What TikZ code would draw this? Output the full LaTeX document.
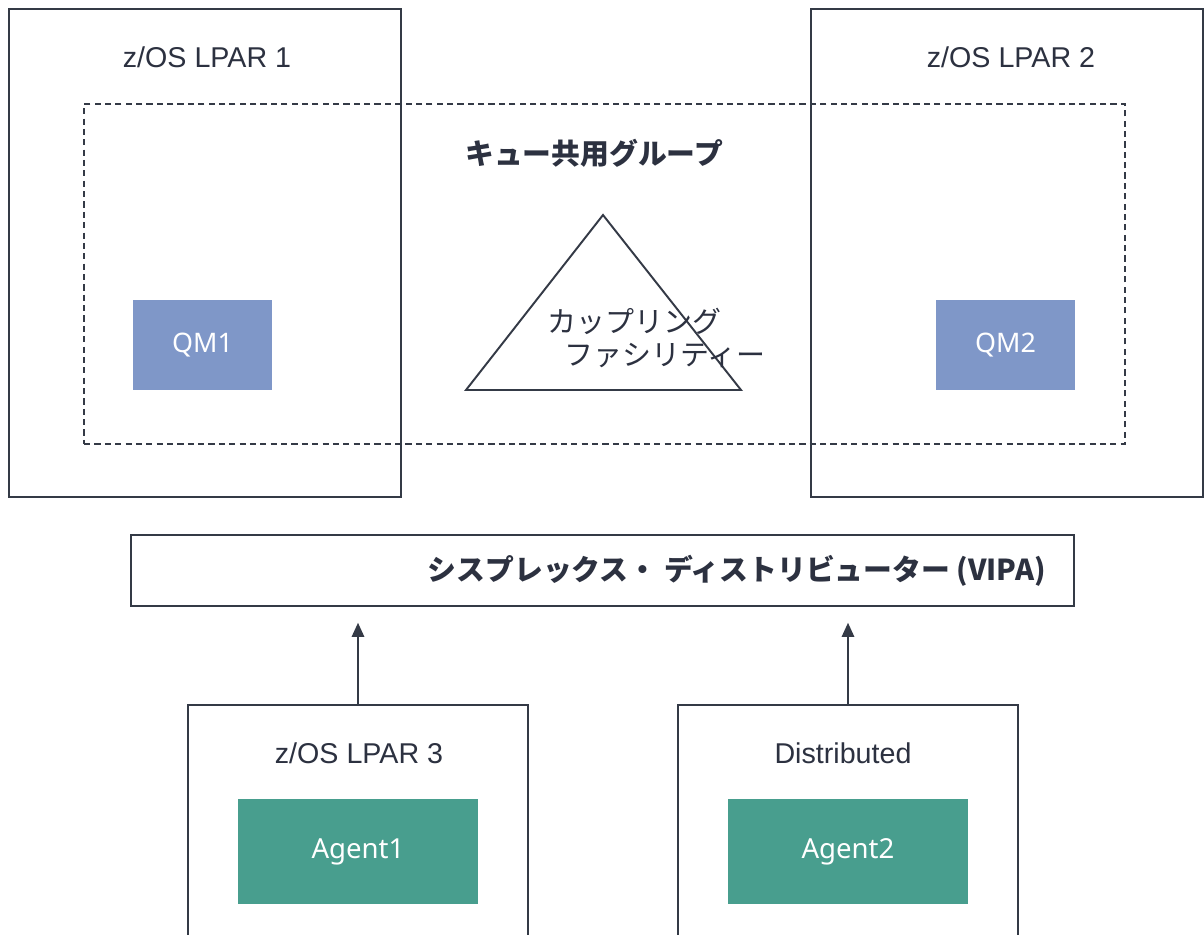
\documentclass[tikz,border=0pt]{standalone}
\usepackage{fontspec}
\setmainfont{Liberation Sans}
\newfontfamily\jpfont{Noto Sans CJK JP}
\newfontfamily\plexfont{Noto Sans}
\usetikzlibrary{arrows.meta}
\definecolor{ink}{HTML}{343A46}
\definecolor{txt}{HTML}{2C3140}
\definecolor{qmblue}{HTML}{7F97C8}
\definecolor{agentgreen}{HTML}{489E8E}
\tikzset{
  box/.style={draw=ink, line width=1.1pt, fill=none, inner sep=0pt},
  groupbox/.style={draw=ink, line width=1.1pt, dash pattern=on 3.5pt off 2.4pt, inner sep=0pt},
  qmbox/.style={fill=qmblue, draw=none, inner sep=0pt, text=white, font=\plexfont\fontsize{15.3}{18}\selectfont},
  agentbox/.style={fill=agentgreen, draw=none, inner sep=0pt, text=white, font=\plexfont\fontsize{15.7}{18}\selectfont},
  lbl/.style={text=txt, font=\fontsize{16.3}{19}\selectfont, inner sep=0pt},
  jplbl/.style={text=txt, font=\jpfont\fontsize{15.5}{19}\selectfont, inner sep=0pt},
  link/.style={draw=ink, line width=1.1pt, -{Triangle[width=7pt,length=8pt]}, shorten >=9pt},
}
\begin{document}
\begin{tikzpicture}[x=0.02cm,y=-0.02cm]
\useasboundingbox[fill=white] (0,0) rectangle (1204,935);
% LPAR boxes
\node[box, minimum width=7.84cm, minimum height=9.76cm] (lpar1) at (205,253) {};
\node[box, minimum width=7.84cm, minimum height=9.76cm] (lpar2) at (1007,253) {};
% dashed group
\node[groupbox, minimum width=20.82cm, minimum height=6.8cm] (qsg) at (604.5,274) {};
% labels
\node[lbl] (l1) at (207,57) {z/OS LPAR 1};
\node[lbl] (l2) at (1011,57) {z/OS LPAR 2};
\node[jplbl, font=\jpfont\bfseries\fontsize{16.4}{19}\selectfont] (qsgl) at (594,153) {キュー共用グループ};
% QMs
\node[qmbox, minimum width=2.78cm, minimum height=1.8cm] (qm1) at (202.5,345) {QM1};
\node[qmbox, minimum width=2.78cm, minimum height=1.8cm] (qm2) at (1005.5,345) {QM2};
% coupling facility triangle
\coordinate (cfT) at (603,215);
\coordinate (cfL) at (466,390);
\coordinate (cfR) at (741,390);
\draw[ink, line width=1.1pt, line join=miter] (cfT) -- (cfR) -- (cfL) -- cycle;
\node[jplbl, anchor=west, font=\jpfont\fontsize{16.5}{19}\selectfont] (cf1) at (547,321) {カップリング};
\node[jplbl, anchor=west, font=\jpfont\fontsize{16.5}{19}\selectfont] (cf2) at (564,356) {ファシリティー};
% sysplex distributor
\node[box, minimum width=18.86cm, minimum height=1.42cm] (dist) at (602.5,570.5) {};
\node[jplbl, anchor=east, font=\jpfont\bfseries\fontsize{16.4}{19}\selectfont] (distl) at (1046,571) {シスプレックス・ ディストリビューター (VIPA)};
% bottom boxes
\node[box, minimum width=6.8cm, minimum height=5.1cm] (lpar3) at (358,832.5) {};
\node[box, minimum width=6.8cm, minimum height=5.1cm] (distr) at (848,832.5) {};
\node[lbl] (l3) at (359,753) {z/OS LPAR 3};
\node[lbl] (l4) at (843,753) {Distributed};
\node[agentbox, minimum width=4.8cm, minimum height=2.1cm] (a1) at (358,851.5) {Agent1};
\node[agentbox, minimum width=4.8cm, minimum height=2.1cm] (a2) at (848,851.5) {Agent2};
% arrows
\draw[link] (lpar3.north) -- (lpar3.north |- dist.south);
\draw[link] (distr.north) -- (distr.north |- dist.south);
\end{tikzpicture}
\end{document}
